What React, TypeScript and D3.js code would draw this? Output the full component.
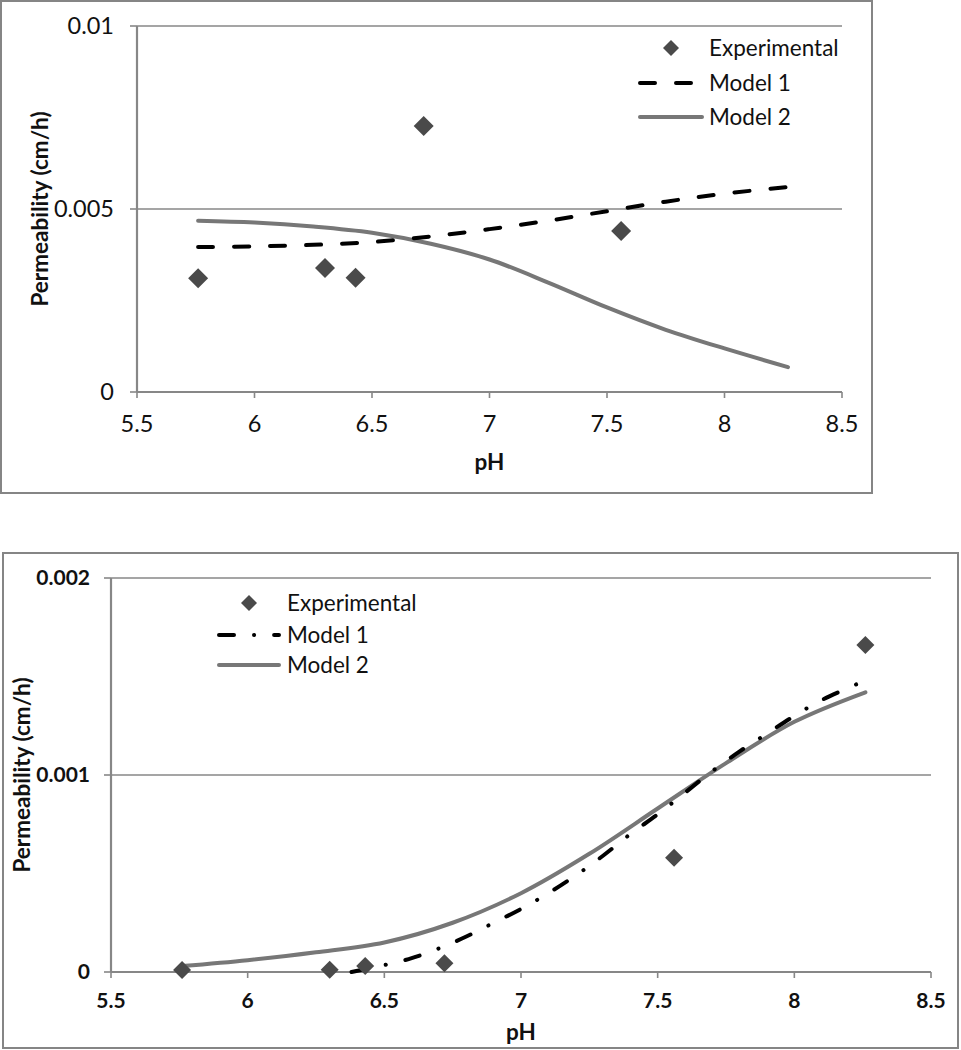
import React from "react";
import * as d3 from "d3";

// ---------- Top chart data ----------
const topExpPH = [5.76, 6.3, 6.43, 6.72, 7.56];
const topExpVal = [0.00311, 0.00339, 0.00312, 0.00727, 0.0044];
const topModelPH = [5.76, 6.0, 6.25, 6.5, 6.75, 7.0, 7.25, 7.5, 7.75, 8.0, 8.27];
const topModel1 = [0.00396, 0.00398, 0.00402, 0.0041, 0.00425, 0.00445, 0.00468, 0.00494, 0.0052, 0.00542, 0.0056];
const topModel2 = [0.00468, 0.00463, 0.00452, 0.00435, 0.00405, 0.00362, 0.00299, 0.00231, 0.0017, 0.00119, 0.00068];
const topYTicks = [0, 0.005, 0.01];
const topYTickLabels = ["0", "0.005", "0.01"];

// ---------- Bottom chart data ----------
const botExpPH = [5.76, 6.3, 6.43, 6.72, 7.56, 8.26];
const botExpVal = [0.00001, 0.000012, 0.00003, 0.000045, 0.00058, 0.00166];
const botModel1PH = [6.38, 6.45, 6.5, 6.6, 6.7, 6.8, 6.9, 7.0, 7.1, 7.2, 7.3, 7.4, 7.5, 7.6, 7.7, 7.8, 7.9, 8.0, 8.1, 8.26];
const botModel1 = [0, 0.00002, 0.000035, 0.00007, 0.00012, 0.00018, 0.00025, 0.00032, 0.0004, 0.00049, 0.00059, 0.0007, 0.0008, 0.00091, 0.00102, 0.00112, 0.00121, 0.0013, 0.00138, 0.00148];
const botModel2PH = [5.76, 6.0, 6.25, 6.5, 6.75, 7.0, 7.25, 7.5, 7.75, 8.0, 8.26];
const botModel2 = [0.00003, 0.00006, 0.0001, 0.00015, 0.00025, 0.0004, 0.0006, 0.00083, 0.00106, 0.00127, 0.00142];
const botYTicks = [0, 0.001, 0.002];
const botYTickLabels = ["0", "0.001", "0.002"];

const xTicks = [5.5, 6, 6.5, 7, 7.5, 8, 8.5];
const xTickLabels = ["5.5", "6", "6.5", "7", "7.5", "8", "8.5"];
const seriesNames = ["Experimental", "Model 1", "Model 2"];

const FONT = "Lato, Carlito, Calibri, 'Open Sans', sans-serif";
const GRID = "#878787";
const MARK = "#4a4a4a";
const M2 = "#777777";

type ChartProps = {
  box: { x: number; y: number; w: number; h: number };
  plot: { l: number; r: number; t: number; b: number };
  yMax: number;
  yTicks: number[];
  yTickLabels: string[];
  expPH: number[];
  expVal: number[];
  m1PH: number[];
  m1: number[];
  m2PH: number[];
  m2: number[];
  m1Dash: string;
  boldTicks: boolean;
  tickFont: number;
  yLabelX: number;
  yTickRight: number;
  xTickY: number;
  xTitleY: number;
  marker: number;
  legend: { diamondX: number; lineX1: number; lineX2: number; textX: number; rows: number[]; marker: number };
};

function diamond(cx: number, cy: number, r: number) {
  return `M${cx},${cy - r}L${cx + r},${cy}L${cx},${cy + r}L${cx - r},${cy}Z`;
}

function Chart(p: ChartProps) {
  const x = d3.scaleLinear().domain([5.5, 8.5]).range([p.plot.l, p.plot.r]);
  const y = d3.scaleLinear().domain([0, p.yMax]).range([p.plot.b, p.plot.t]);
  const line = d3
    .line<[number, number]>()
    .x((d) => x(d[0]))
    .y((d) => y(d[1]))
    .curve(d3.curveCatmullRom.alpha(0.5));
  const m1Pts = p.m1PH.map((v, i) => [v, p.m1[i]] as [number, number]);
  const m2Pts = p.m2PH.map((v, i) => [v, p.m2[i]] as [number, number]);
  const tw = p.boldTicks ? 700 : 400;
  return (
    <g>
      <rect x={p.box.x} y={p.box.y} width={p.box.w} height={p.box.h} fill="#fff" stroke="#858585" strokeWidth={2} />
      {p.yTicks.filter((t) => t > 0).map((t) => (
        <line key={"g" + t} x1={p.plot.l} x2={p.plot.r} y1={y(t)} y2={y(t)} stroke={GRID} strokeWidth={1.6} />
      ))}
      <line x1={p.plot.l} x2={p.plot.l} y1={p.plot.t} y2={p.plot.b} stroke={GRID} strokeWidth={2.2} />
      {p.yTicks.map((t) => (
        <line key={"yt" + t} x1={p.plot.l - 7} x2={p.plot.l} y1={y(t)} y2={y(t)} stroke={GRID} strokeWidth={1.6} />
      ))}
      {p.yTicks.map((t, i) => (
        <text key={"yl" + t} x={p.yTickRight} y={y(t)} dy="0.35em" textAnchor="end" fontFamily={FONT} fontSize={p.tickFont} fontWeight={tw} fill="#111">
          {p.yTickLabels[i]}
        </text>
      ))}
      <line x1={p.plot.l} x2={p.plot.r} y1={p.plot.b} y2={p.plot.b} stroke={GRID} strokeWidth={2} />
      {xTicks.map((t) => (
        <line key={"xt" + t} x1={x(t)} x2={x(t)} y1={p.plot.b} y2={p.plot.b + 6} stroke={GRID} strokeWidth={1.6} />
      ))}
      {xTicks.map((t, i) => (
        <text key={"xl" + t} x={x(t)} y={p.xTickY} dy="0.35em" textAnchor="middle" fontFamily={FONT} fontSize={p.tickFont} fontWeight={tw} fill="#111">
          {xTickLabels[i]}
        </text>
      ))}
      <text x={(p.plot.l + p.plot.r) / 2} y={p.xTitleY} dy="0.35em" textAnchor="middle" fontFamily={FONT} fontSize={22.5} fontWeight={700} fill="#111">
        pH
      </text>
      <text
        transform={`translate(${p.yLabelX},${(p.plot.t + p.plot.b) / 2}) rotate(-90)`}
        dy="0.35em"
        textAnchor="middle"
        fontFamily={FONT}
        fontSize={22.5}
        fontWeight={700}
        fill="#111"
      >
        Permeability (cm/h)
      </text>
      <path d={line(m2Pts) || ""} fill="none" stroke={M2} strokeWidth={4} strokeLinecap="round" />
      <path d={line(m1Pts) || ""} fill="none" stroke="#000" strokeWidth={4} strokeDasharray={p.m1Dash} strokeLinecap="round" />
      {p.expPH.map((v, i) => (
        <path key={"e" + i} d={diamond(x(v), y(p.expVal[i]), p.marker)} fill={MARK} />
      ))}
      <path d={diamond(p.legend.diamondX, p.legend.rows[0], p.legend.marker)} fill={MARK} />
      <line x1={p.legend.lineX1} x2={p.legend.lineX2} y1={p.legend.rows[1]} y2={p.legend.rows[1]} stroke="#000" strokeWidth={4} strokeDasharray={p.m1Dash} strokeLinecap="round" />
      <line x1={p.legend.lineX1} x2={p.legend.lineX2} y1={p.legend.rows[2]} y2={p.legend.rows[2]} stroke={M2} strokeWidth={4} strokeLinecap="round" />
      {seriesNames.map((s, i) => (
        <text key={s} x={p.legend.textX} y={p.legend.rows[i]} dy="0.35em" fontFamily={FONT} fontSize={22.5} fill="#111">
          {s}
        </text>
      ))}
    </g>
  );
}

export default function App() {
  return (
    <svg width={961} height={1050} style={{ position: "absolute", left: 0, top: 0, background: "#fff" }}>
      <rect x={0} y={0} width={961} height={1050} fill="#fff" />
      <Chart
        box={{ x: 1, y: 1, w: 871, h: 492 }}
        plot={{ l: 137, r: 842, t: 26, b: 392 }}
        yMax={0.01}
        yTicks={topYTicks}
        yTickLabels={topYTickLabels}
        expPH={topExpPH}
        expVal={topExpVal}
        m1PH={topModelPH}
        m1={topModel1}
        m2PH={topModelPH}
        m2={topModel2}
        m1Dash="15 21"
        boldTicks={false}
        tickFont={23.5}
        yLabelX={40}
        yTickRight={114}
        xTickY={424}
        xTitleY={462}
        marker={10}
        legend={{ diamondX: 671, lineX1: 640, lineX2: 702, textX: 709, rows: [48, 83, 117], marker: 8 }}
      />
      <Chart
        box={{ x: 3, y: 553, w: 955, h: 495 }}
        plot={{ l: 111, r: 931, t: 578, b: 972 }}
        yMax={0.002}
        yTicks={botYTicks}
        yTickLabels={botYTickLabels}
        expPH={botExpPH}
        expVal={botExpVal}
        m1PH={botModel1PH}
        m1={botModel1}
        m2PH={botModel2PH}
        m2={botModel2}
        m1Dash="15 20 0.1 20"
        boldTicks={true}
        tickFont={21}
        yLabelX={22}
        yTickRight={90}
        xTickY={1001}
        xTitleY={1032}
        marker={9}
        legend={{ diamondX: 249, lineX1: 219, lineX2: 279, textX: 287, rows: [603, 635, 665], marker: 8 }}
      />
    </svg>
  );
}
